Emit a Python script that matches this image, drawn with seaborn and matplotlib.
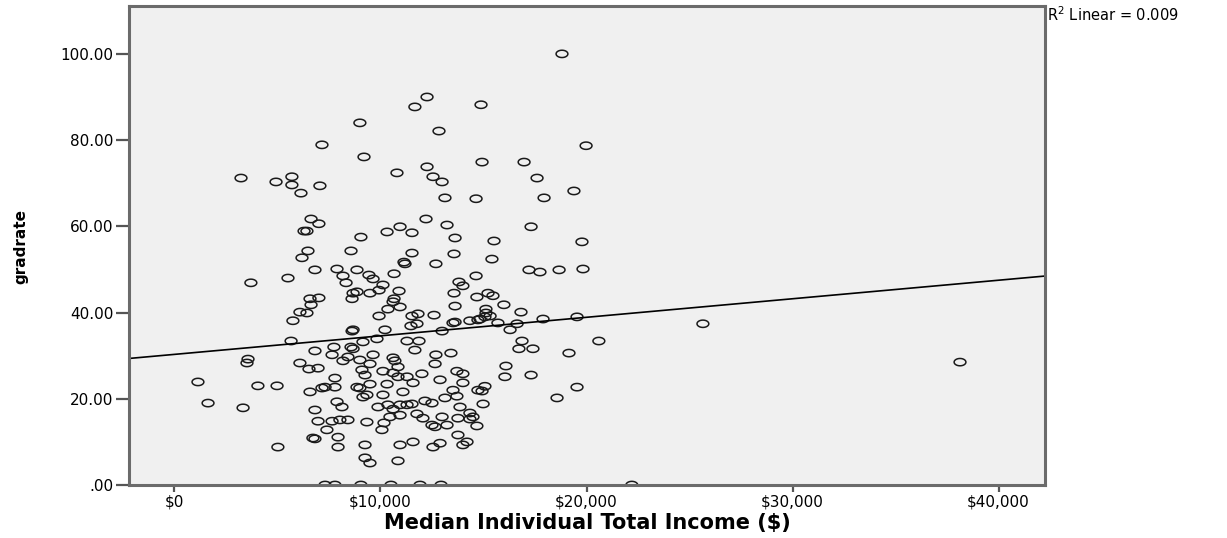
import numpy as np
import pandas as pd
import seaborn as sns
import matplotlib.pyplot as plt
from matplotlib.path import Path

# Values, grouped by gradrate band
income_high = [18810, 12260, 11670, 14880, 9000, 12840, 19980, 7160, 9200, 14930,
               16970, 10800, 12260, 12550, 12990, 17600, 3230, 4930, 5700, 5700,
               6140, 7060, 19390, 17940, 13130, 14640, 6630, 7010, 12210, 13230]
rate_high = [100.0, 90.0, 87.7, 88.2, 84.0, 82.1, 78.7, 78.9, 76.1, 74.9,
             74.9, 72.4, 73.8, 71.5, 70.3, 71.2, 71.2, 70.3, 71.5, 69.6,
             67.7, 69.4, 68.2, 66.6, 66.6, 66.4, 61.7, 60.6, 61.7, 60.3]

income_mid = [6290, 6430, 10950, 10320, 11530, 17310, 9050, 13620, 15510, 19780,
              13570, 11530, 11140, 11190, 12690, 15410, 8570, 6480, 6190, 6820,
              7890, 8860, 8180, 9440, 9640, 8330, 10120, 10660, 3710, 5510,
              8860, 8670, 9490, 9930, 10900, 13810, 14000, 13570, 14640, 14680,
              6580, 7010, 8620, 10660, 17210, 17740, 18670, 19830, 6630, 10610,
              10950, 10360, 13620, 6090, 15220, 15460, 15120, 15990, 16820]
rate_mid = [58.9, 58.9, 59.9, 58.7, 58.5, 59.9, 57.5, 57.3, 56.6, 56.4,
            53.6, 53.8, 51.7, 51.3, 51.3, 52.4, 54.3, 54.3, 52.7, 49.9,
            50.1, 49.9, 48.5, 48.7, 47.8, 46.9, 46.4, 49.0, 46.9, 48.0,
            44.8, 44.5, 44.5, 45.2, 45.0, 47.1, 46.2, 44.5, 48.5, 43.6,
            43.2, 43.4, 43.2, 43.2, 49.9, 49.4, 49.9, 50.1, 41.8, 42.5,
            41.3, 40.8, 41.5, 40.1, 44.5, 43.9, 40.8, 41.8, 40.1]

income_low = [6430, 5750, 9930, 11530, 11820, 12600, 11480, 11770, 13520, 13620,
              14340, 14730, 8620, 8670, 10220, 12990, 5660, 9150, 9830, 11290,
              11870, 11670, 6820, 7740, 8570, 8670, 7650, 8420, 8180, 9640,
              10610, 10700, 9000, 9490, 12690, 13420, 12650, 3570, 3520, 6090,
              6530, 6970, 9100, 9250, 10120, 10850, 10610, 10850, 12010, 13710,
              14000, 1140, 4050, 4980, 7790, 9490, 10320, 8860, 9000, 11290,
              11580, 12890, 14000, 14730, 7310, 7160, 7790, 6580, 11090, 13520,
              13710, 9340, 9150, 10120, 13130, 14830, 15120, 15070, 15320, 15700,
              16290, 16630, 17890, 19540, 16870, 16720, 17400, 20600, 19150, 16090,
              16040, 17310, 15070, 14930, 19540, 18570, 25650, 38130]
rate_low = [39.9, 38.1, 39.2, 39.2, 39.7, 39.4, 36.9, 37.4, 37.6, 37.8,
            38.1, 38.3, 35.7, 36.0, 36.0, 35.7, 33.4, 33.2, 33.9, 33.4,
            33.4, 31.3, 31.1, 32.0, 32.0, 31.6, 30.2, 29.7, 28.8, 30.2,
            29.5, 28.8, 29.0, 28.1, 30.2, 30.6, 28.1, 29.2, 28.3, 28.3,
            26.9, 27.1, 26.7, 25.5, 26.4, 27.4, 26.0, 25.1, 25.8, 26.4,
            25.8, 23.9, 23.0, 23.0, 24.8, 23.4, 23.4, 22.7, 22.5, 25.1,
            23.7, 24.4, 23.7, 22.0, 22.7, 22.5, 22.7, 21.6, 21.6, 22.0,
            20.6, 20.9, 20.4, 20.9, 20.2, 38.5, 39.9, 39.0, 39.2, 37.6,
            36.0, 37.4, 38.5, 39.0, 33.4, 31.6, 31.6, 33.4, 30.6, 27.6,
            25.1, 25.5, 22.9, 21.8, 22.7, 20.2, 37.4, 28.5]

income_bottom = [1630, 3330, 7890, 8130, 9880, 10360, 10610, 10950, 11290, 11530,
                 12160, 12500, 13860, 14340, 14490, 6820, 6970, 7650, 8030, 8420,
                 9340, 10170, 10070, 10460, 10950, 11770, 12060, 12500, 12650, 12990,
                 13230, 13760, 7400, 6720, 6820, 7940, 5020, 7940, 9250, 10950,
                 11580, 12550, 12890, 13760, 14000, 14200, 9250, 9490, 10850, 14980,
                 14340, 14680, 7310, 7790, 9050, 10510, 11920, 12940, 22200]
rate_bottom = [19.0, 17.9, 19.3, 18.1, 18.1, 18.6, 17.6, 18.6, 18.6, 18.8,
               19.5, 19.0, 18.1, 16.7, 15.8, 17.4, 14.8, 14.8, 15.1, 15.1,
               14.6, 14.4, 12.8, 15.8, 16.2, 16.5, 15.5, 13.9, 13.5, 15.8,
               13.9, 15.5, 12.8, 10.9, 10.7, 11.1, 8.8, 8.8, 9.3, 9.3,
               10.0, 8.8, 9.7, 11.6, 9.3, 10.0, 6.3, 5.1, 5.6, 18.8,
               15.3, 13.7, 0.0, 0.0, 0.0, 0.0, 0.0, 0.0, 0.0]

x_ticks = [0, 10000, 20000, 30000, 40000]
x_tick_labels = ["$0", "$10,000", "$20,000", "$30,000", "$40,000"]
y_ticks = [0, 20, 40, 60, 80, 100]
y_tick_labels = [".00", "20.00", "40.00", "60.00", "80.00", "100.00"]

# Linear fit line as drawn in the reference
fit_intercept = 30.3
fit_slope = 0.00043
r2_text = "R$^2$ Linear = 0.009"


def main():
    sns.set_theme(style="white")
    plt.rcParams["font.family"] = ["DejaVu Sans"]
    plt.rcParams["text.color"] = "black"
    plt.rcParams["xtick.color"] = "black"
    plt.rcParams["ytick.color"] = "black"
    plt.rcParams["axes.labelcolor"] = "black"

    df = pd.DataFrame({
        "income": income_high + income_mid + income_low + income_bottom,
        "gradrate": rate_high + rate_mid + rate_low + rate_bottom,
    })

    fig = plt.figure(figsize=(12.27, 5.38), dpi=100)
    ax = fig.add_axes([0.1051, 0.0985, 0.7466, 0.8903])
    ax.set_facecolor("#f0f0f0")

    # SPSS draws its circles slightly wider than tall
    t = np.linspace(0, 2 * np.pi, 61)
    ellipse = Path(np.column_stack([np.cos(t), 0.62 * np.sin(t)]), closed=True)

    sns.scatterplot(data=df, x="income", y="gradrate", marker=ellipse, s=72,
                    facecolor="none", edgecolor="#1a1a1a", linewidth=1.1,
                    legend=False, ax=ax)

    ax.axline((0, fit_intercept), slope=fit_slope, color="black", lw=1.2)

    ax.set_xlim(-2209, 42257)
    ax.set_ylim(0, 111.1)
    ax.set_xticks(x_ticks)
    ax.set_xticklabels(x_tick_labels)
    ax.set_yticks(y_ticks)
    ax.set_yticklabels(y_tick_labels)

    for spine in ax.spines.values():
        spine.set_visible(True)
        spine.set_color("#6b6b6b")
        spine.set_linewidth(2.2)

    ax.tick_params(axis="y", length=9.5, width=1.6, color="#555555", pad=1.5,
                   labelsize=11, left=True, labelcolor="black")
    ax.tick_params(axis="x", length=5, width=1.6, color="#555555", pad=2,
                   labelsize=11, bottom=True, labelcolor="black")

    ax.set_xlabel("Median Individual Total Income ($)", fontsize=15,
                  fontweight="bold", color="black")
    ax.xaxis.set_label_coords(0.5, -0.058)
    ax.set_ylabel("")
    fig.text(21 / 1227, 1 - 246 / 538, "gradrate", rotation=90, ha="center",
             va="center", fontsize=11, fontweight="bold", color="black")

    fig.text(1047 / 1227, 1 - 15 / 538, r2_text, ha="left", va="center",
             fontsize=10.5, color="black")

    fig.savefig("out.png", dpi=100)
    plt.close(fig)


if __name__ == "__main__":
    main()
